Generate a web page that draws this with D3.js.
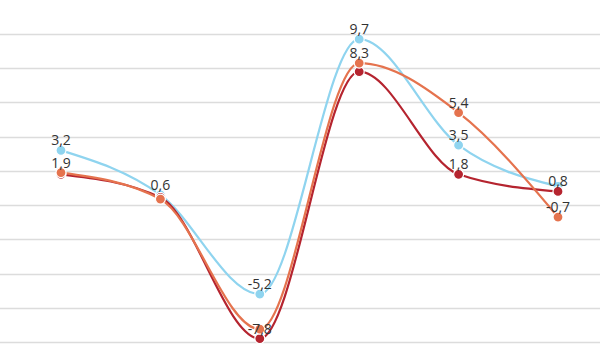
<!DOCTYPE html>
<html><head><meta charset="utf-8">
<script src="https://cdn.jsdelivr.net/npm/d3@7"></script>
<style>body{margin:0;background:#fff}svg{display:block}</style>
</head><body>
<svg id="chart" width="600" height="360"></svg>
<script>
const categories = ["1","2","3","4","5","6"];
const seriesNames = ["Blue","DarkRed","Orange"];
const blueValues    = [3.2, 0.6, -5.2, 9.7, 3.5, 1.1];
const darkRedValues = [1.8, 0.45, -7.8, 7.8, 1.8, 0.8];
const orangeValues  = [1.9, 0.35, -7.25, 8.3, 5.4, -0.7];
const blueLabelShown    = [true, true, true, true, true, false];
const darkRedLabelShown = [false, false, true, false, true, true];
const orangeLabelShown  = [true, false, false, true, true, true];
const yTicks = [-8,-6,-4,-2,0,2,4,6,8,10];

const series = [
  {name: seriesNames[0], values: blueValues, shown: blueLabelShown, color: "#8fd4ef"},
  {name: seriesNames[1], values: darkRedValues, shown: darkRedLabelShown, color: "#b5242f"},
  {name: seriesNames[2], values: orangeValues, shown: orangeLabelShown, color: "#e5734e"}
];

const svg = d3.select("#chart");
const x = d3.scalePoint().domain(categories).range([61, 558]);
const y = d3.scaleLinear().domain([-8, 10]).range([342, 34]);

svg.append("g").selectAll("line").data(yTicks).join("line")
  .attr("x1", 0).attr("x2", 600)
  .attr("y1", d => Math.round(y(d)) + 0.5).attr("y2", d => Math.round(y(d)) + 0.5)
  .attr("stroke", "#dcdcdc").attr("stroke-width", 1.5);

const line = d3.line().x((d,i) => x(categories[i])).y(d => y(d)).curve(d3.curveMonotoneX);

series.forEach(s => {
  svg.append("path").attr("d", line(s.values))
    .attr("fill", "none").attr("stroke", s.color).attr("stroke-width", 2.2);
});
series.forEach(s => {
  svg.append("g").selectAll("circle").data(s.values).join("circle")
    .attr("cx", (d,i) => x(categories[i])).attr("cy", d => y(d))
    .attr("r", 5).attr("fill", s.color).attr("stroke", "#fff").attr("stroke-width", 1.2);
});
const fmt = v => String(v).replace(".", ",");
series.forEach(s => {
  svg.append("g").selectAll("text").data(s.values.map((v,i) => ({v, i})).filter(d => s.shown[d.i]))
    .join("text")
    .attr("x", d => x(categories[d.i])).attr("y", d => y(d.v) - 5)
    .attr("text-anchor", "middle")
    .attr("font-family", "'Open Sans', sans-serif").attr("font-size", 14)
    .attr("fill", "#333")
    .text(d => fmt(d.v));
});
</script>
</body></html>
